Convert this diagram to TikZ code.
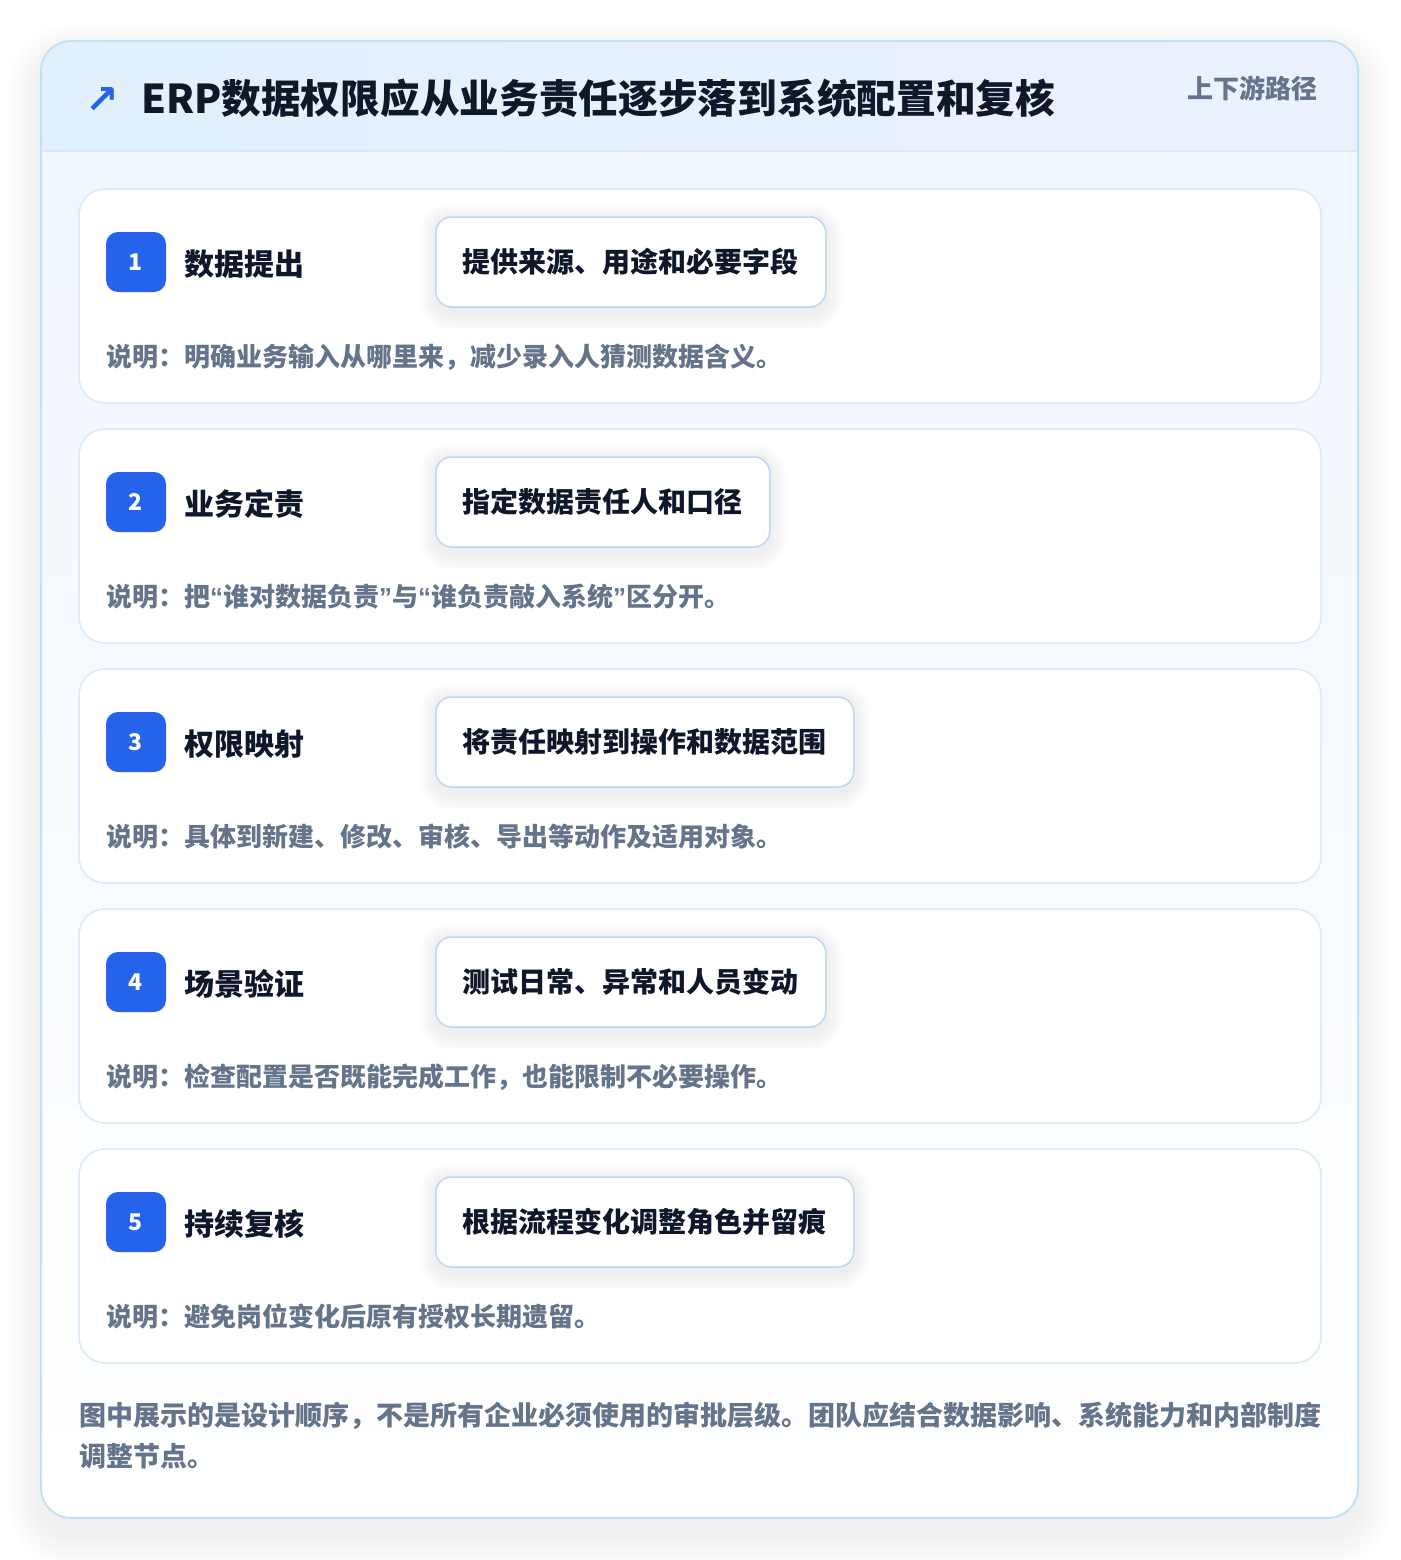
\documentclass[tikz,border=0pt]{standalone}
\usepackage{fontspec}
\setmainfont{Noto Sans CJK SC}
\newfontfamily\symfont{DejaVu Sans}
\newfontfamily\latinfont{Liberation Sans}
\usetikzlibrary{positioning}

\definecolor{accent}{HTML}{2563EB}
\definecolor{ink}{HTML}{0F172A}
\definecolor{muted}{HTML}{64748B}
\definecolor{cardline}{HTML}{BEE3F8}
\definecolor{headleft}{HTML}{E1F0FC}
\definecolor{headright}{HTML}{EBF2FE}
\definecolor{bodytop}{HTML}{F0F7FE}
\definecolor{stepline}{HTML}{DAE9F8}
\definecolor{boxline}{HTML}{BFD6F5}

\pgfdeclarelayer{boxshade}
\pgfdeclarelayer{front}
\pgfsetlayers{main,boxshade,front}

\tikzset{
    cjk/.style={inner sep=0pt, font=\fontsize{#1}{#1}\selectfont\bfseries,
        text height=0.88*#1pt, text depth=0.12*#1pt},
    stepcard/.style={draw=stepline, line width=1.5pt, fill=white, rounded corners=26pt},
    badge/.style={fill=accent, rounded corners=12pt, minimum size=60pt, inner sep=0pt,
        text=white, font=\fontsize{23}{23}\selectfont\bfseries},
    steptitle/.style={cjk=30, anchor=west, text=ink},
    actionbox/.style={cjk=28, draw=boxline, line width=1.5pt, fill=white, rounded corners=16pt,
        minimum height=90pt, inner xsep=27pt, anchor=west, text=ink},
    note/.style={cjk=#1, anchor=west, text=muted},
    note/.default=26,
}

\begin{document}
\begin{tikzpicture}[x=1pt,y=-1pt]
    \useasboundingbox[fill=white] (0,0) rectangle (1400,1560);

    % soft shadow of the outer card
    \foreach \k in {1,...,14}
        \fill[black, opacity=0.005, rounded corners={30+\k*2.5}]
            ({41-\k*2.5},{57-\k*2.5}) rectangle ({1358+\k*2.5},{1534+\k*2.5});

    % outer card
    \fill[white, rounded corners=30pt] (41,41) rectangle (1358,1518);
    \begin{scope}
        \clip[rounded corners=30pt] (41,41) rectangle (1358,1518);
        \shade[left color=headleft, right color=headright] (41,41) rectangle (1358,151);
        \shade[top color=bodytop, bottom color=white] (41,151) rectangle (1358,1518);
        \draw[stepline, line width=1.5pt] (41,151) -- (1358,151);
    \end{scope}
    \draw[cardline, line width=2pt, rounded corners=30pt] (41,41) rectangle (1358,1518);

    % header
    \node[text=accent, font=\symfont\bfseries\fontsize{40}{40}\selectfont] (icon) at (102,101) {↗};
    \node[cjk=39.7, anchor=west, text=ink] (title) at (141,98)
        {ERP数据权限应从业务责任逐步落到系统配置和复核};
    \node[cjk=26, anchor=east, text=muted] (tag) at (1318,89) {上下游路径};

    % steps
    \foreach \i/\name/\action/\desc in {
        1/数据提出/提供来源、用途和必要字段/说明：明确业务输入从哪里来，减少录入人猜测数据含义。,
        2/业务定责/指定数据责任人和口径/说明：把{\latinfont“}谁对数据负责{\latinfont”}与{\latinfont“}谁负责敲入系统{\latinfont”}区分开。,
        3/权限映射/将责任映射到操作和数据范围/说明：具体到新建、修改、审核、导出等动作及适用对象。,
        4/场景验证/测试日常、异常和人员变动/说明：检查配置是否既能完成工作，也能限制不必要操作。,
        5/持续复核/根据流程变化调整角色并留痕/说明：避免岗位变化后原有授权长期遗留。}
    {
        \begin{scope}[shift={(0,{(\i-1)*240})}]
            \draw[stepcard] (79,189) rectangle (1321,403);
            \node[badge] (num\i) at (136,262) {\i};
            \node[steptitle] (name\i) at (184,264) {\name};
            \begin{pgfonlayer}{front}
                \node[actionbox] (box\i) at (435,262) {\action};
            \end{pgfonlayer}
            \begin{pgfonlayer}{boxshade}
                \foreach \k in {1,...,8}
                    \fill[black, opacity=0.006, rounded corners={16+\k*2}]
                        ([xshift={-\k*2pt}, yshift={-(6+\k*2)*1pt}]box\i.south west)
                        rectangle ([xshift={\k*2pt}, yshift={(\k*2-2)*1pt}]box\i.north east);
            \end{pgfonlayer}
            \node[note] (desc\i) at (106,357) {\desc};
        \end{scope}
    }

    % footer
    \node[note=27] (foot1) at (79,1415)
        {图中展示的是设计顺序，不是所有企业必须使用的审批层级。团队应结合数据影响、系统能力和内部制度};
    \node[note=27] (foot2) at (79,1456) {调整节点。};
\end{tikzpicture}
\end{document}
